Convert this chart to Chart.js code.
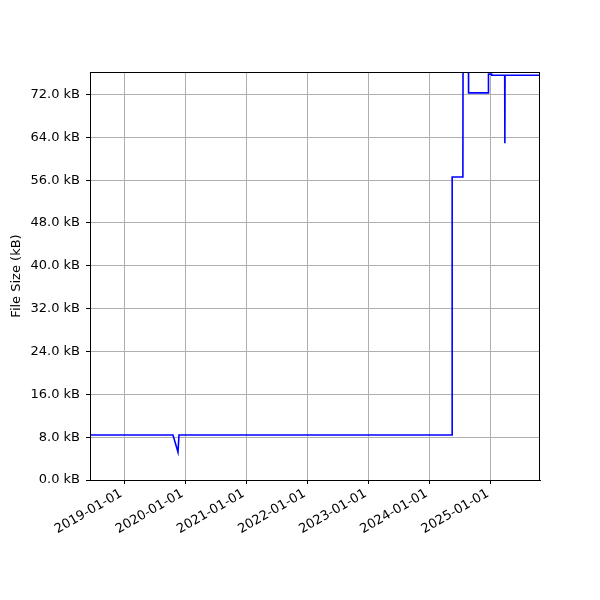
<!DOCTYPE html>
<html>
<head>
<meta charset="utf-8">
<script src="https://cdn.jsdelivr.net/npm/chart.js@4"></script>
<style>
  html, body { margin: 0; padding: 0; background: #fff; }
  #wrap { width: 600px; height: 600px; }
</style>
</head>
<body>
<div id="wrap"><canvas id="chart" width="600" height="600"></canvas></div>
<script>
// commit dates and file sizes (kB)
const dates = [
  '2018-06-10', '2019-10-19', '2019-11-18', '2019-11-24', '2024-05-13', '2024-05-14',
  '2024-07-17', '2024-07-18', '2024-08-19', '2024-08-20', '2024-12-16', '2024-12-17',
  '2025-01-05', '2025-01-06', '2025-03-24', '2025-03-25', '2025-03-26', '2025-10-21'
];
const sizes = [
  8.4, 8.4, 5.2, 8.4, 8.4, 56.6,
  56.6, 80.0, 80.0, 72.3, 72.3, 75.8,
  75.8, 75.6, 75.6, 62.9, 75.6, 75.6
];
const yTicks = [0, 8, 16, 24, 32, 40, 48, 56, 64, 72];
const xTickLabels = ['2019-01-01', '2020-01-01', '2021-01-01', '2022-01-01', '2023-01-01', '2024-01-01', '2025-01-01'];
const xRange = ['2018-06-10', '2025-10-21'];
const yMax = 76.2;

const toMs = (d) => Date.parse(d + 'T00:00:00Z');
const fmtDate = (ms) => new Date(ms).toISOString().slice(0, 10);

const frame = {
  id: 'frame',
  afterDraw(chart) {
    const { ctx, chartArea: a } = chart;
    ctx.save();
    ctx.strokeStyle = '#000';
    ctx.lineWidth = 1;
    ctx.strokeRect(a.left + 0.5, a.top + 0.5, a.right - a.left - 1, a.bottom - a.top);
    ctx.restore();
  }
};

const font = { family: 'DejaVu Sans', size: 13 };

new Chart(document.getElementById('chart'), {
  type: 'line',
  data: {
    datasets: [{
      data: dates.map((d, i) => ({ x: toMs(d), y: sizes[i] })),
      borderColor: '#0000ff',
      borderWidth: 1.6,
      pointRadius: 0,
      tension: 0,
      fill: false
    }]
  },
  options: {
    responsive: false,
    animation: false,
    layout: { padding: { top: 72, right: 60, left: 0, bottom: 0 } },
    plugins: { legend: { display: false }, tooltip: { enabled: false } },
    scales: {
      x: {
        type: 'linear',
        min: toMs(xRange[0]),
        max: toMs(xRange[1]),
        afterBuildTicks: (scale) => { scale.ticks = xTickLabels.map((d) => ({ value: toMs(d) })); },
        afterFit: (scale) => { scale.height = 120; },
        grid: { color: '#b0b0b0', lineWidth: 1, tickColor: '#000', tickLength: 4 },
        border: { color: '#000', width: 1 },
        ticks: {
          color: '#000',
          font,
          minRotation: 30,
          maxRotation: 30,
          padding: 2,
          labelOffset: -3,
          callback: (v) => fmtDate(v)
        }
      },
      y: {
        min: 0,
        max: yMax,
        afterBuildTicks: (scale) => { scale.ticks = yTicks.map((v) => ({ value: v })); },
        afterFit: (scale) => { scale.width = 90; },
        grid: { color: '#b0b0b0', lineWidth: 1, tickColor: '#000', tickLength: 4 },
        border: { color: '#000', width: 1 },
        title: { display: true, text: 'File Size (kB)', color: '#000', font, padding: { top: 9, bottom: 0 } },
        ticks: {
          color: '#000',
          font,
          padding: 6,
          callback: (v) => v.toFixed(1) + ' kB'
        }
      }
    }
  },
  plugins: [frame]
});
</script>
</body>
</html>
